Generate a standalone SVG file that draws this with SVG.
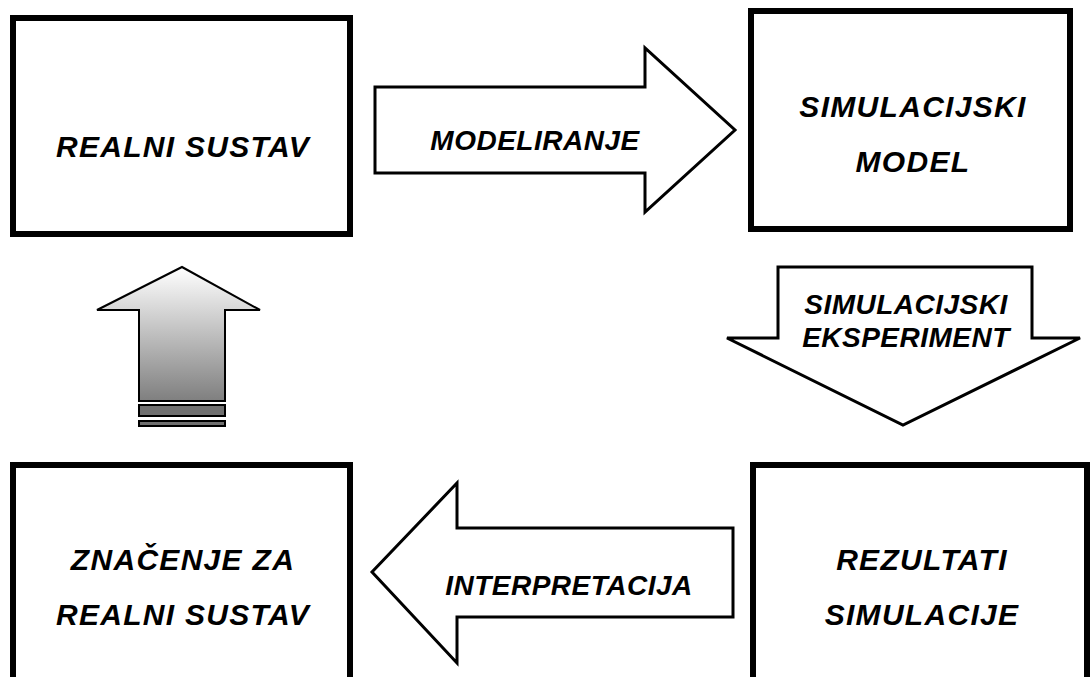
<svg xmlns="http://www.w3.org/2000/svg" width="1092" height="677" viewBox="0 0 1092 677">
<style>
.box{fill:#fff;stroke:#000;stroke-width:6}
.arr{fill:#fff;stroke:#000;stroke-width:3;stroke-linejoin:miter}
.t{font-family:"Liberation Sans",Arial,sans-serif;font-weight:bold;font-style:italic;fill:#000;text-anchor:middle}
.big{font-size:30px;letter-spacing:1.3px}
.mid{font-size:28px;letter-spacing:0.5px}
</style>
<defs>
<linearGradient id="g" x1="0" y1="0" x2="0" y2="1">
<stop offset="0" stop-color="#ffffff"/>
<stop offset="1" stop-color="#7f7f7f"/>
</linearGradient>
</defs>
<rect width="1092" height="677" fill="#fff"/>
<g id="connectors">
<g id="modeliranje">
<polygon class="arr" points="375,87 645,87 645,48 735,130 645,212 645,173 375,173"/>
<text class="t mid" x="535" y="150">MODELIRANJE</text>
</g>
<g id="eksperiment">
<polygon class="arr" points="778,267 1032,267 1032,338 1080,338 903,425 727,338 778,338"/>
<text class="t mid" x="906" y="314">SIMULACIJSKI</text>
<text class="t mid" x="906" y="347">EKSPERIMENT</text>
</g>
<g id="interpretacija">
<polygon class="arr" points="733,528 457,528 457,483 372,572 457,663 457,617 733,617"/>
<text class="t mid" x="569" y="595">INTERPRETACIJA</text>
</g>
<g id="povratak">
<polygon points="182,267 260,310 225,310 225,401 139,401 139,310 97,310" fill="url(#g)" stroke="#000" stroke-width="2"/>
<rect x="139" y="405" width="86" height="11" fill="#707070" stroke="#000" stroke-width="2"/>
<rect x="139" y="421" width="86" height="5" fill="#707070" stroke="#000" stroke-width="2"/>
</g>
</g>
<g id="realni">
<rect class="box" x="13" y="18" width="337" height="216"/>
<text class="t big" x="183" y="157">REALNI SUSTAV</text>
</g>
<g id="model">
<rect class="box" x="751" y="11" width="319" height="218"/>
<text class="t big" x="913" y="117">SIMULACIJSKI</text>
<text class="t big" x="913" y="172">MODEL</text>
</g>
<g id="rezultati">
<rect class="box" x="753" y="465" width="334" height="240"/>
<text class="t big" x="922" y="570">REZULTATI</text>
<text class="t big" x="922" y="625">SIMULACIJE</text>
</g>
<g id="znacenje">
<rect class="box" x="13" y="465" width="337" height="240"/>
<text class="t big" x="183" y="570">ZNAČENJE ZA</text>
<text class="t big" x="183" y="625">REALNI SUSTAV</text>
</g>
</svg>
